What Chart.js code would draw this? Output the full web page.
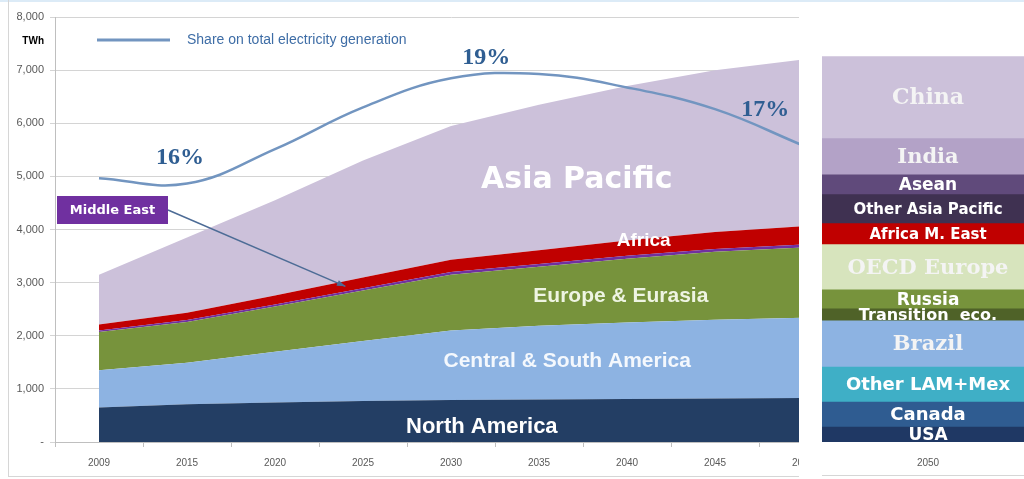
<!DOCTYPE html>
<html>
<head>
<meta charset="utf-8">
<script src="https://cdn.jsdelivr.net/npm/chart.js@4/dist/chart.umd.min.js"></script>
<style>
	html, body { margin: 0; padding: 0; background: #fff; }
	body { width: 1024px; height: 479px; overflow: hidden; position: relative; }
	#topLine { position: absolute; left: 0; top: 0; width: 1024px; height: 2px; background: #DCEBF7; }
	#leftWrap { position: absolute; left: 0; top: 0; width: 799px; height: 479px; overflow: hidden; }
	#leftFrame { position: absolute; left: 8px; top: 0; width: 791px; height: 477px; border-left: 1px solid #D6D6D6; border-bottom: 1px solid #D6D6D6; box-sizing: border-box; pointer-events: none; }
	#rightWrap { position: absolute; left: 822px; top: 0; width: 202px; height: 479px; overflow: hidden; }
	#rightFrame { position: absolute; left: 822px; top: 475px; width: 202px; height: 1px; background: #D6D6D6; }
	canvas { position: absolute; left: 0; top: 0; }
</style>
</head>
<body>
<div id="topLine"></div>
<div id="leftWrap"><canvas id="regionChart" width="860" height="479"></canvas></div>
<div id="leftFrame"></div>
<div id="rightWrap"><canvas id="breakdownChart" width="212" height="479"></canvas></div>
<div id="rightFrame"></div>
<script>
const years = ['2009', '2015', '2020', '2025', '2030', '2035', '2040', '2045', '2050'];

// TWh, stacked bottom to top
const northAmerica = [650, 710, 745, 770, 790, 800, 810, 820, 830];
const centralSouthAmerica = [700, 780, 955, 1130, 1310, 1390, 1440, 1480, 1510];
const europeEurasia = [720, 770, 850, 950, 1050, 1110, 1200, 1280, 1320];
const middleEast = [30, 35, 40, 45, 50, 50, 55, 55, 60];
const africa = [110, 140, 170, 200, 230, 260, 290, 320, 340];
const asiaPacific = [940, 1415, 1790, 2205, 2520, 2740, 2905, 3045, 3140];

// % share on total electricity generation
const sharePct = [16.1, 15.95, 16.9, 18.05, 18.85, 18.97, 18.6, 18.0, 17.0];

const breakdownLabels = ['USA', 'Canada', 'Other LAM+Mex', 'Brazil', 'Transition  eco.', 'Russia', 'OECD Europe', 'Africa M. East', 'Other Asia Pacific', 'Asean', 'India', 'China'];
const breakdown2050 = [280, 470, 660, 870, 225, 360, 850, 395, 545, 375, 680, 1545];
const breakdownColors = ['#1F3864', '#2F5C91', '#3FAFC6', '#8DB3E2', '#4F6228', '#77933C', '#D7E4BD', '#C00000', '#3F3151', '#604A7B', '#B3A2C7', '#CCC1DA'];
const breakdownFonts = [
	'bold 17px "DejaVu Sans"', 'bold 18px "DejaVu Sans"', 'bold 18px "DejaVu Sans"', 'bold 21px "DejaVu Serif"',
	'bold 16px "DejaVu Sans"', 'bold 17px "DejaVu Sans"', 'bold 21px "DejaVu Serif"', 'bold 15px "DejaVu Sans"',
	'bold 15px "DejaVu Sans"', 'bold 17px "DejaVu Sans"', 'bold 21px "DejaVu Serif"', 'bold 22px "DejaVu Serif"'
];

// text placed in data space: [text, category index, TWh, font, colour]
const areaLabels = [
	['Asia Pacific', 5.43, 4930, 'bold 30px "DejaVu Sans"', '#FFFFFF'],
	['Africa', 6.19, 3790, 'bold 19px "Liberation Sans"', '#FFFFFF'],
	['Europe & Eurasia', 5.93, 2750, 'bold 21px "Liberation Sans"', '#EEF4E2'],
	['Central & South America', 5.32, 1525, 'bold 21px "Liberation Sans"', '#F4F8FD'],
	['North America', 4.35, 280, 'bold 22px "Liberation Sans"', '#FFFFFF'],
	['16%', 0.92, 5350, 'bold 24px "Liberation Serif"', '#2F5E92'],
	['19%', 4.4, 7230, 'bold 24px "Liberation Serif"', '#2F5E92'],
	['17%', 7.57, 6250, 'bold 24px "Liberation Serif"', '#2F5E92']
];

const shareColor = '#7295C0';

function fmtTWh(v) {
	return v === 0 ? '-' : v.toLocaleString('en-US');
}

const overlayPlugin = {
	id: 'overlay',
	afterDatasetsDraw(chart) {
		const ctx = chart.ctx;
		const xs = chart.scales.x;
		const ys = chart.scales.y;
		ctx.save();
		ctx.textAlign = 'center';
		ctx.textBaseline = 'middle';
		areaLabels.forEach(function (l) {
			ctx.font = l[3];
			ctx.fillStyle = l[4];
			ctx.fillText(l[0], xs.getPixelForValue(l[1]), ys.getPixelForValue(l[2]));
		});

		// Middle East callout
		const bx = 57, by = 196, bw = 111, bh = 28;
		const tx = xs.getPixelForValue(2.8), ty = ys.getPixelForValue(2930);
		ctx.strokeStyle = '#4D6C96';
		ctx.lineWidth = 1.5;
		ctx.beginPath();
		ctx.moveTo(bx + bw, by + bh / 2);
		ctx.lineTo(tx, ty);
		ctx.stroke();
		const ang = Math.atan2(ty - (by + bh / 2), tx - (bx + bw));
		ctx.fillStyle = '#4D6C96';
		ctx.beginPath();
		ctx.moveTo(tx, ty);
		ctx.lineTo(tx - 9 * Math.cos(ang - 0.35), ty - 9 * Math.sin(ang - 0.35));
		ctx.lineTo(tx - 9 * Math.cos(ang + 0.35), ty - 9 * Math.sin(ang + 0.35));
		ctx.closePath();
		ctx.fill();
		ctx.fillStyle = '#7030A0';
		ctx.fillRect(bx, by, bw, bh);
		ctx.fillStyle = '#FFFFFF';
		ctx.font = 'bold 13px "DejaVu Sans"';
		ctx.fillText('Middle East', bx + bw / 2, by + bh / 2 + 1);

		// legend
		ctx.strokeStyle = shareColor;
		ctx.lineWidth = 3;
		ctx.beginPath();
		ctx.moveTo(97, 40);
		ctx.lineTo(170, 40);
		ctx.stroke();
		ctx.textAlign = 'left';
		ctx.fillStyle = '#3E6DA6';
		ctx.font = '14px "Liberation Sans"';
		ctx.fillText('Share on total electricity generation', 187, 40);

		// unit
		ctx.textAlign = 'right';
		ctx.fillStyle = '#000000';
		ctx.font = 'bold 10px "Liberation Sans"';
		ctx.fillText('TWh', 44, 41);
		ctx.restore();
	}
};

function areaSet(label, data, color, fill) {
	return {
		label: label,
		data: data,
		yAxisID: 'y',
		backgroundColor: color,
		borderColor: color,
		borderWidth: 0,
		pointRadius: 0,
		tension: 0,
		fill: fill,
		order: 1
	};
}

function regionChart() {
	const config = {
		type: 'line',
		data: {
			labels: years,
			datasets: [
				areaSet('North America', northAmerica, '#233E64', 'origin'),
				areaSet('Central & South America', centralSouthAmerica, '#8DB3E2', '-1'),
				areaSet('Europe & Eurasia', europeEurasia, '#77933C', '-1'),
				areaSet('Middle East', middleEast, '#7030A0', '-1'),
				areaSet('Africa', africa, '#C00000', '-1'),
				areaSet('Asia Pacific', asiaPacific, '#CCC1DA', '-1'),
				{
					label: 'Share on total electricity generation',
					data: sharePct,
					yAxisID: 'y2',
					borderColor: shareColor,
					borderWidth: 2.5,
					pointRadius: 0,
					tension: 0.4,
					fill: false,
					order: -1
				}
			]
		},
		options: {
			responsive: false,
			animation: false,
			layout: { padding: { top: 17, left: 8, right: 13, bottom: 10 } },
			plugins: {
				legend: { display: false },
				tooltip: { enabled: false }
			},
			scales: {
				x: {
					offset: true,
					grid: { drawOnChartArea: false, drawTicks: true, tickLength: 5, color: '#BFBFBF', offset: true },
					border: { color: '#BFBFBF' },
					ticks: { color: '#595959', font: { family: 'Liberation Sans', size: 10 }, padding: 10, maxRotation: 0, autoSkip: false },
					afterFit: function (s) { s.height = 27; }
				},
				y: {
					stacked: true,
					min: 0,
					max: 8000,
					grid: { color: '#D4D4D4', tickLength: 5 },
					border: { color: '#BFBFBF' },
					ticks: { stepSize: 1000, color: '#595959', font: { family: 'Liberation Sans', size: 11 }, padding: 6, callback: fmtTWh },
					afterFit: function (s) { s.width = 47; }
				},
				y2: {
					display: false,
					position: 'right',
					min: 8.83,
					max: 20.54
				}
			}
		},
		plugins: [overlayPlugin]
	};
	new Chart(document.querySelector('#regionChart'), config);
}
regionChart();

const barLabelPlugin = {
	id: 'barLabels',
	afterDatasetsDraw(chart) {
		const ctx = chart.ctx;
		ctx.save();
		ctx.textAlign = 'center';
		ctx.textBaseline = 'middle';
		chart.data.datasets.forEach(function (ds, i) {
			const bar = chart.getDatasetMeta(i).data[0];
			ctx.font = breakdownFonts[i];
			ctx.fillStyle = i === 6 || i === 11 || i === 10 || i === 3 ? '#F4F4F4' : '#FFFFFF';
			ctx.fillText(ds.label, bar.x, (bar.y + bar.base) / 2 + 1);
		});
		ctx.restore();
	}
};

function breakdownChart() {
	const config = {
		type: 'bar',
		data: {
			labels: ['2050'],
			datasets: breakdownLabels.map(function (l, i) {
				return {
					label: l,
					data: [breakdown2050[i]],
					backgroundColor: breakdownColors[i],
					borderWidth: 0,
					barPercentage: 1,
					categoryPercentage: 1
				};
			})
		},
		options: {
			responsive: false,
			animation: false,
			layout: { padding: { top: 17, left: 0, right: 0, bottom: 10 } },
			plugins: {
				legend: { display: false },
				tooltip: { enabled: false }
			},
			scales: {
				x: {
					stacked: true,
					grid: { display: false, drawTicks: false },
					border: { display: false },
					ticks: { color: '#595959', font: { family: 'Liberation Sans', size: 10 }, padding: 15 },
					afterFit: function (s) { s.height = 27; }
				},
				y: {
					stacked: true,
					display: false,
					min: 0,
					max: 8000
				}
			}
		},
		plugins: [barLabelPlugin]
	};
	new Chart(document.querySelector('#breakdownChart'), config);
}
breakdownChart();
</script>
</body>
</html>
